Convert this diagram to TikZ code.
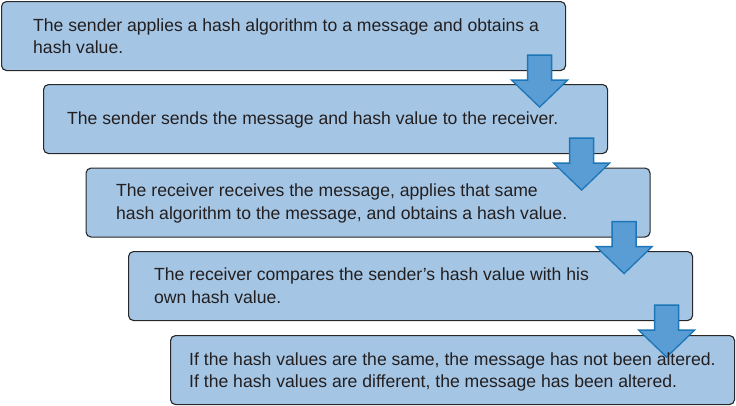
\documentclass[tikz,border=0pt]{standalone}
\usepackage{fontspec}
\setmainfont{Liberation Sans}
\usetikzlibrary{calc}
\definecolor{boxfill}{RGB}{164,197,228}
\definecolor{boxline}{RGB}{40,40,42}
\definecolor{arrfill}{RGB}{90,156,212}
\definecolor{arrline}{RGB}{28,118,184}
\definecolor{txt}{RGB}{35,31,32}
\tikzset{
  stepbox/.style={draw=boxline, fill=boxfill, line width=1.1pt, rounded corners=5pt,
    minimum width=564pt, minimum height=69pt, anchor=north west, inner sep=0pt},
  txtline/.style={anchor=base west, inner sep=0pt, text=txt, font=\fontsize{17.6}{22.5}\selectfont},
  arr/.style={draw=arrline, fill=arrfill, line width=1.3pt, line join=miter}
}
\begin{document}
\begin{tikzpicture}[x=1pt,y=-1pt]
\useasboundingbox (0,0) rectangle (736,405);
\node[stepbox] (b1) at (1,1) {};
\node[stepbox] (b2) at (43,84) {};
\node[stepbox] (b3) at (85.5,167.5) {};
\node[stepbox] (b4) at (128,251) {};
\node[stepbox] (b5) at (170,335) {};
\foreach \i in {1,2,3,4} {
  \coordinate (m\i) at ($(b\i.south east)+(-26.5,0)$);
  \draw[arr] (m\i) ++(-12,-16) -- ++(24,0) -- ++(0,25) -- ++(16,0) -- ++(-28,27) -- ++(-28,-27) -- ++(16,0) -- cycle;
}
\node[txtline] (t1a) at (33,31) {The sender applies a hash algorithm to a message and obtains a};
\node[txtline] (t1b) at (33,53.5) {hash value.};
\node[txtline] (t2a) at (67,124) {The sender sends the message and hash value to the receiver.};
\node[txtline] (t3a) at (116,196.5) {The receiver receives the message, applies that same};
\node[txtline] (t3b) at (116,219) {hash algorithm to the message, and obtains a hash value.};
\node[txtline] (t4a) at (154,280.5) {The receiver compares the sender’s hash value with his};
\node[txtline] (t4b) at (154,303) {own hash value.};
\node[txtline] (t5a) at (189,365) {If the hash values are the same, the message has not been altered.};
\node[txtline] (t5b) at (189,387.5) {If the hash values are different, the message has been altered.};
\end{tikzpicture}
\end{document}
